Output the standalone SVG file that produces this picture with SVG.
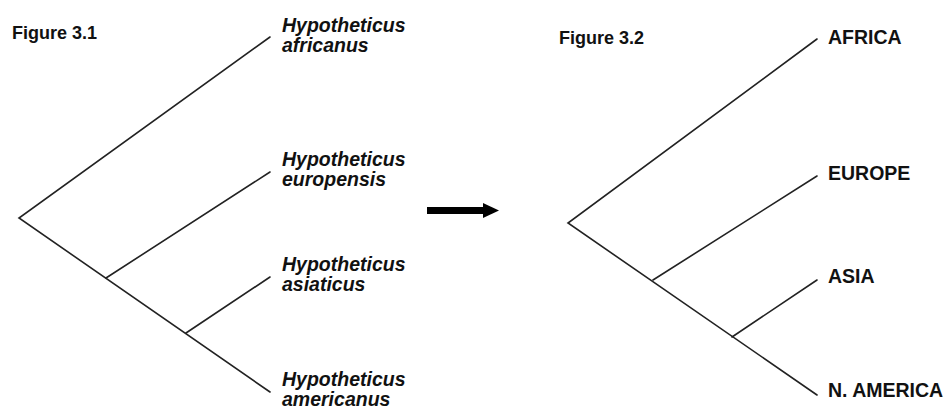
<svg xmlns="http://www.w3.org/2000/svg" width="944" height="411" viewBox="0 0 944 411">
<style>
.br{stroke:#222;stroke-width:1.6;fill:none;stroke-linecap:round}
.t{font-family:"Liberation Sans",Arial,sans-serif;font-weight:bold;font-size:19.5px;fill:#111}
.sp{font-style:italic}
.fig{font-family:"Liberation Sans",Arial,sans-serif;font-weight:bold;font-size:18px;fill:#111}
</style>
<rect width="944" height="411" fill="#fff"/>
<g id="connectors">
<path class="br" d="M270,37 L19,218 L270,392"/>
<path class="br" d="M106,278 L270,172"/>
<path class="br" d="M186,333 L270,277"/>
<path class="br" d="M817,39 L568,223 L817,395"/>
<path class="br" d="M653,280 L817,176"/>
<path class="br" d="M732,337 L817,280"/>
</g>
<g id="arrow">
<rect x="427" y="207" width="58" height="7" fill="#000"/>
<polygon points="483,203 499,210.5 483,218" fill="#000"/>
</g>
<g id="fig31"><text class="fig" x="12" y="39">Figure 3.1</text></g>
<g id="fig32"><text class="fig" x="559" y="44">Figure 3.2</text></g>
<g id="africanus"><text class="t sp" x="282" y="32">Hypotheticus</text><text class="t sp" x="282" y="52">africanus</text></g>
<g id="europensis"><text class="t sp" x="282" y="166">Hypotheticus</text><text class="t sp" x="282" y="186">europensis</text></g>
<g id="asiaticus"><text class="t sp" x="282" y="271">Hypotheticus</text><text class="t sp" x="282" y="291">asiaticus</text></g>
<g id="americanus"><text class="t sp" x="282" y="386">Hypotheticus</text><text class="t sp" x="282" y="406">americanus</text></g>
<g id="africa"><text class="t" x="828" y="44">AFRICA</text></g>
<g id="europe"><text class="t" x="828" y="180">EUROPE</text></g>
<g id="asia"><text class="t" x="828" y="283">ASIA</text></g>
<g id="namerica"><text class="t" x="828" y="397">N. AMERICA</text></g>
</svg>
